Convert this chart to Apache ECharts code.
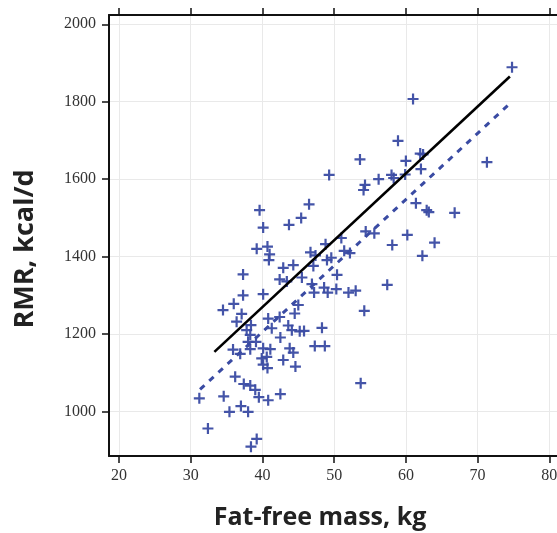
<!DOCTYPE html>
<html>
<head>
<meta charset="utf-8">
<script src="https://cdn.jsdelivr.net/npm/echarts@6/dist/echarts.min.js"></script>
<style>
  html, body { margin: 0; padding: 0; background: #ffffff; }
  #chart { width: 557px; height: 533px; }
</style>
</head>
<body>
<div id="chart"></div>
<script>
// Fat-free mass (kg) and resting metabolic rate (kcal/d), one entry per subject
const ffmKg = [
  74.8, 61.0, 58.9, 53.6, 49.3, 60.0, 62.0, 62.4, 62.1, 71.3,
  58.0, 58.3, 56.2, 59.9, 54.3, 54.1, 46.5, 45.4, 43.7, 61.4,
  62.9, 63.2, 66.8, 54.4, 55.6, 60.2, 58.1, 64.0, 62.3, 57.4,
  51.0, 48.8, 46.7, 47.4, 51.4, 52.2, 49.6, 49.0, 47.1, 44.3,
  42.9, 50.4, 45.5, 46.9, 47.2, 48.6, 49.1, 50.3, 52.0, 53.0,
  42.4, 43.4, 54.2, 45.0, 44.5, 43.6, 44.1, 45.2, 45.8, 48.3,
  47.3, 48.7, 43.8, 44.3, 44.6, 53.7, 39.6, 40.1, 39.2, 40.7,
  41.0, 40.9, 37.3, 40.1, 37.3, 36.0, 34.5, 37.1, 36.4, 38.4,
  40.8, 42.4, 41.3, 37.8, 38.3, 42.5, 38.0, 39.1, 38.3, 35.9,
  36.9, 41.1, 40.1, 39.9, 40.6, 40.1, 40.7, 42.9, 36.2, 37.4,
  38.3, 39.0, 39.5, 31.2, 34.6, 40.8, 42.5, 35.4, 37.0, 38.0,
  32.4, 39.2, 38.4
];
const rmrKcal = [
  1889, 1807, 1699, 1651, 1611, 1647, 1666, 1664, 1626, 1644,
  1611, 1603, 1600, 1612, 1585, 1572, 1535, 1500, 1482, 1538,
  1520, 1515, 1513, 1465, 1460, 1456, 1430, 1436, 1402, 1327,
  1448, 1432, 1411, 1403, 1415, 1409, 1397, 1391, 1376, 1378,
  1371, 1353, 1346, 1329, 1307, 1320, 1307, 1316, 1307, 1312,
  1341, 1336, 1260, 1275, 1253, 1222, 1210, 1207, 1208, 1216,
  1169, 1169, 1163, 1152, 1116, 1073, 1520, 1475, 1420, 1426,
  1406, 1391, 1354, 1303, 1300, 1278, 1262, 1252, 1232, 1223,
  1240, 1244, 1215, 1210, 1198, 1191, 1180, 1180, 1161, 1160,
  1149, 1161, 1163, 1137, 1141, 1121, 1112, 1133, 1090, 1071,
  1067, 1056, 1037, 1034, 1039, 1029, 1045, 999, 1014, 999,
  956, 929, 909
];

// Fitted lines, given by their end points
const fitSolidX = [33.3, 74.5];
const fitSolidY = [1154, 1865];
const fitDashedX = [31.3, 74.6];
const fitDashedY = [1057, 1797];

// Axis ticks and titles
const xTicks = [20, 30, 40, 50, 60, 70, 80];
const yTicks = [1000, 1200, 1400, 1600, 1800, 2000];
const xTitle = 'Fat-free mass, kg';
const yTitle = 'RMR, kcal/d';

const X_MIN = 18.606, X_MAX = 82.2;
const Y_MIN = 885, Y_MAX = 2024;

const pointColor = '#3a4ba3';
const labelFont = { fontFamily: 'Liberation Serif', fontSize: 16, color: '#333333' };
const frame = { show: true, onZero: false, lineStyle: { color: '#111111', width: 2 } };
const grid = { show: true, lineStyle: { color: '#e9e9e9', width: 1 } };
const plain = (v) => String(Math.round(v));

function xAxisDef(position, withLabels) {
  return {
    type: 'value', position: position, min: X_MIN, max: X_MAX,
    axisLine: frame,
    axisTick: { show: true, inside: false, length: 7, customValues: xTicks,
                lineStyle: { color: '#111111', width: 1.5 } },
    axisLabel: withLabels
      ? Object.assign({ show: true, margin: 12, customValues: xTicks, formatter: plain }, labelFont)
      : { show: false },
    splitLine: withLabels ? grid : { show: false }
  };
}
function yAxisDef(position, withLabels) {
  return {
    type: 'value', position: position, min: Y_MIN, max: Y_MAX,
    axisLine: frame,
    axisTick: { show: true, inside: false, length: 7, customValues: yTicks,
                lineStyle: { color: '#111111', width: 1.5 } },
    axisLabel: withLabels
      ? Object.assign({ show: true, margin: 13, customValues: yTicks, formatter: plain }, labelFont)
      : { show: false },
    splitLine: withLabels ? grid : { show: false }
  };
}

const plusPath = 'path://M4,0H6V4H10V6H6V10H4V6H0V4H4Z';

const chart = echarts.init(document.getElementById('chart'), null, { renderer: 'canvas' });
chart.setOption({
  animation: false,
  backgroundColor: '#ffffff',
  grid: {
    left: 109, top: 15, width: (X_MAX - X_MIN) * 7.172, height: 441,
    containLabel: false, outerBoundsMode: 'none'
  },
  xAxis: [xAxisDef('bottom', true), xAxisDef('top', false)],
  yAxis: [yAxisDef('left', true), yAxisDef('right', false)],
  graphic: [
    { type: 'text', x: 320, y: 518,
      style: { text: xTitle, font: 'bold 25px "Open Sans"', fill: '#222222',
               textAlign: 'center', textVerticalAlign: 'middle' } },
    { type: 'text', x: 25, y: 249, rotation: Math.PI / 2,
      style: { text: yTitle, font: 'bold 27px "Open Sans"', fill: '#222222',
               textAlign: 'center', textVerticalAlign: 'middle' } }
  ],
  series: [
    {
      type: 'scatter',
      symbol: plusPath,
      symbolSize: 11,
      itemStyle: { color: pointColor, opacity: 0.95 },
      data: ffmKg.map((v, i) => [v, rmrKcal[i]]),
      z: 2
    },
    {
      type: 'line',
      data: fitDashedX.map((v, i) => [v, fitDashedY[i]]),
      showSymbol: false, symbol: 'none',
      lineStyle: { color: pointColor, width: 3, type: [6, 6.5], cap: 'butt' },
      z: 3
    },
    {
      type: 'line',
      data: fitSolidX.map((v, i) => [v, fitSolidY[i]]),
      showSymbol: false, symbol: 'none',
      lineStyle: { color: '#000000', width: 2.6 },
      z: 4
    }
  ]
});
</script>
</body>
</html>
